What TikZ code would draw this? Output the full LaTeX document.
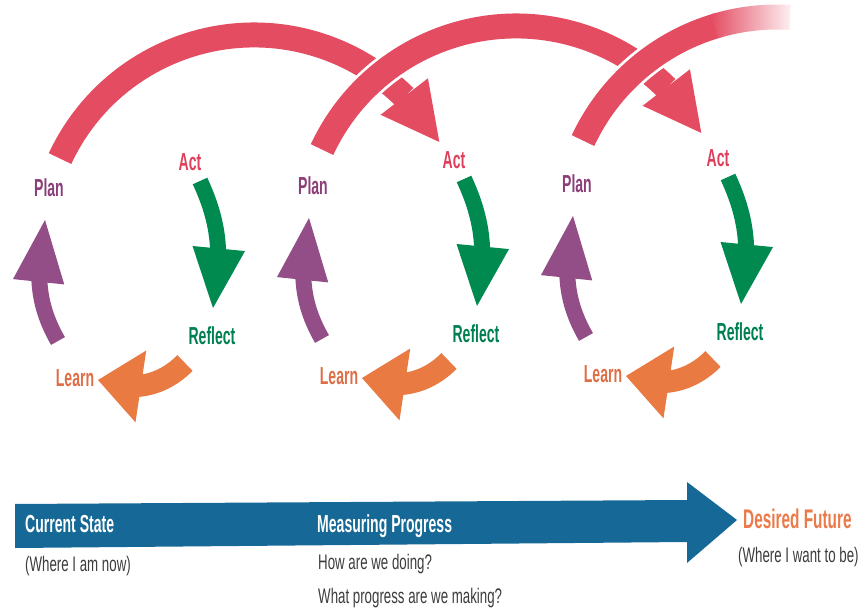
\documentclass[tikz,border=0pt]{standalone}
\usepackage{fontspec}
\newfontfamily\lblfont[FakeStretch=0.63,BoldFeatures={FakeStretch=0.57}]{Liberation Sans}
\usetikzlibrary{arrows.meta,bending}
\definecolor{arcclr}{RGB}{228,76,98}
\definecolor{actclr}{RGB}{222,64,92}
\definecolor{planclr}{RGB}{140,62,120}
\definecolor{purpclr}{RGB}{148,78,135}
\definecolor{grnclr}{RGB}{0,138,80}
\definecolor{reflclr}{RGB}{0,128,80}
\definecolor{orgclr}{RGB}{232,122,66}
\definecolor{lrnclr}{RGB}{222,110,70}
\definecolor{barclr}{RGB}{22,104,150}
\definecolor{futclr}{RGB}{234,122,74}
\definecolor{noteclr}{RGB}{60,60,60}
\tikzset{
  lbl/.style={font=\lblfont\bfseries\fontsize{21}{23}\selectfont,inner sep=0pt},
  hdr/.style={font=\lblfont\bfseries\fontsize{21}{23}\selectfont,inner sep=0pt,
    anchor=base west},
  note/.style={font=\lblfont\fontsize{18}{20}\selectfont,text=noteclr,
    inner sep=0pt,anchor=base west},
  arcline/.style={line width=21.3pt,draw=arcclr},
  bigarr/.style={arcline,-{Triangle[length=49pt,width=51pt,line width=0pt]}},
  gap/.style={line width=26pt,draw=white},
  uparr/.style={line width=13.6pt,draw=purpclr,
    -{Triangle[length=53pt,width=44pt,line width=0pt]}},
  dnarr/.style={line width=13.6pt,draw=grnclr,
    -{Triangle[length=51pt,width=45pt,line width=0pt]}},
  lfarr/.style={line width=18.7pt,draw=orgclr,
    -{Triangle[length=37pt,width=62pt,line width=0pt]}},
}

\begin{document}
\begin{tikzpicture}[x=0.03cm,y=0.03cm]
  \useasboundingbox (0,0) rectangle (865,609);

  % big plan-to-act arcs
  \coordinate (c1) at (254,360);
  \coordinate (c2) at (516,369);
  \coordinate (c3) at (777,378);
  \foreach \c in {c1,c2}{
    \draw[gap] (\c) ++(155:214) arc[start angle=155,end angle=48,radius=214];
    \draw[bigarr] (\c) ++(155:214) arc[start angle=155,end angle=30,radius=214];
  }
  \draw[gap] (c3) ++(155:214) arc[start angle=155,end angle=100,radius=214];
  \draw[arcline] (c3) ++(155:214) arc[start angle=155,end angle=106,radius=214];
  \shade[left color=arcclr,right color=arcclr!8]
    (c3) ++(107:201.5) arc[start angle=107,end angle=86.5,radius=201.5]
    -- ++(86.5:25) arc[start angle=86.5,end angle=107,radius=226.5] -- cycle;

  % one small loop per step
  \foreach \i in {1,2,3}{
    \pgfmathsetmacro{\dx}{264*(\i-1)}
    \pgfmathsetmacro{\dy}{2*(\i-1)}
    \begin{scope}[shift={(\dx,\dy)}]
      \node[lbl,text=planclr] (plan\i) at (49,421) {Plan};
      \node[lbl,text=actclr]  (act\i)  at (190,447) {Act};
      \node[lbl,text=reflclr] (refl\i) at (212,273) {Reflect};
      \node[lbl,text=lrnclr]  (lrn\i)  at (75,231) {Learn};
      \coordinate (pa\i) at (58,268);  \coordinate (pb\i) at (45,389);
      \coordinate (ga\i) at (200,428); \coordinate (gb\i) at (213,301);
      \coordinate (oa\i) at (185,246); \coordinate (ob\i) at (98,229);
      \draw[uparr] (pa\i) to[out=120,in=-100] (pb\i);
      \draw[dnarr] (ga\i) to[out=-65,in=80] (gb\i);
      \draw[lfarr] (oa\i) to[out=-135,in=-20] (ob\i);
    \end{scope}
  }

  % time line
  \fill[barclr] (15,105) -- (687,109) -- (687,127) -- (737,89) -- (687,46)
    -- (687,67) -- (15,61) -- cycle;
  \node[hdr,text=white] (cur) at (25,77) {Current State};
  \node[note] (curnote) at (25,38) {(Where I am now)};
  \node[hdr,text=white] (meas) at (317,77) {Measuring Progress};
  \node[note] (how) at (318,40) {How are we doing?};
  \node[note] (what) at (318,6) {What progress are we making?};
  \node[hdr,text=futclr,font=\lblfont\bfseries\fontsize{23}{25}\selectfont]
    (fut) at (743,81) {Desired Future};
  \node[note] (futnote) at (738,47) {(Where I want to be)};
\end{tikzpicture}
\end{document}
